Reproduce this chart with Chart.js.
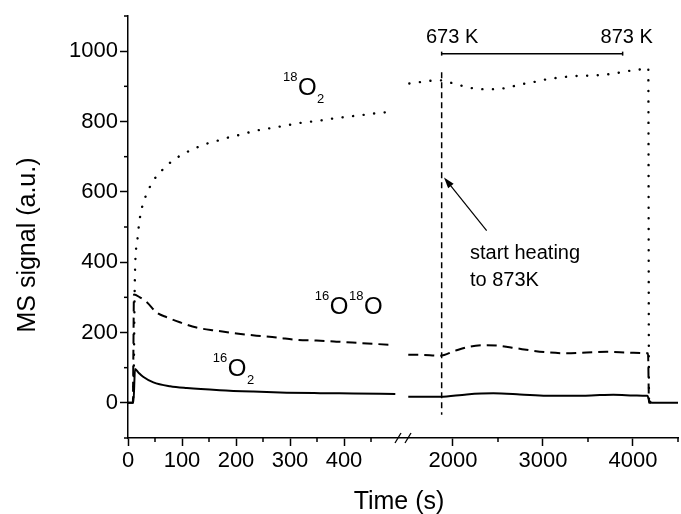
<!DOCTYPE html>
<html>
<head>
<meta charset="utf-8">
<script src="https://cdn.jsdelivr.net/npm/chart.js@4.4.0/dist/chart.umd.min.js"></script>
<style>
  html, body { margin: 0; padding: 0; background: #fff; }
  canvas { display: block; }
</style>
</head>
<body>
<canvas id="msChart" width="681" height="514"></canvas>
<script>
// broken time axis: 0-500 s on the left, 1500-4500 s squeezed on the right
const LEFT_END = 500;
const RIGHT_START = 1500;
const RIGHT_END = 4500;
const RIGHT_SQUEEZE = 6;   // right part drawn 6x compressed
const GAP = 18.5;          // axis units left empty for the break

function toAxis(t) {
    if (t <= LEFT_END) return t;
    return LEFT_END + GAP + (t - RIGHT_START) / RIGHT_SQUEEZE;
}
function fromAxis(u) {
    if (u <= LEFT_END) return u;
    return RIGHT_START + (u - LEFT_END - GAP) * RIGHT_SQUEEZE;
}

// 18O2 (dotted)
const o18Time = [0, 9, 11, 12, 13, 15, 18, 20, 23, 28, 36, 47, 64, 83, 104, 126, 146, 167, 189, 210,
    231, 252, 272, 294, 315, 335, 357, 378, 398, 420, 442, 462, 485,
    1515, 1633, 1763, 1874, 1967, 2078, 2207, 2337, 2485, 2615, 2744, 2893, 3041, 3189, 3337, 3485,
    3633, 3781, 3930, 4078, 4152, 4170, 4178, 4200];
const o18Signal = [0, 0, 120, 280, 374, 438, 471, 502, 535, 567, 599, 632, 663, 689, 709, 725, 737, 746, 756, 763,
    772, 778, 783, 789, 795, 799, 803, 808, 812, 816, 820, 824, 827,
    908, 912, 916, 917, 911, 903, 895, 892, 892, 897, 905, 912, 920, 925, 929, 930,
    932, 936, 943, 948, 952, 952, 0, 0];

// 16O18O (dashed)
const mixTime = [0, 9, 10, 11, 22, 35, 53, 72, 96, 127, 164, 201, 238, 275, 312, 349, 386, 430, 485,
    1503, 1670, 1856, 2022, 2189, 2374, 2522, 2707, 2893, 3078, 3263, 3485, 3707, 3930, 4152, 4167, 4178, 4200];
const mixSignal = [0, 0, 150, 308, 300, 286, 257, 243, 229, 214, 205, 197, 191, 186, 179, 177, 174, 170, 165,
    137, 136, 134, 148, 160, 164, 162, 155, 148, 143, 141, 143, 145, 143, 141, 141, 0, 0];

// 16O2 (solid)
const o16Time = [0, 10, 13, 20, 28, 47, 78, 109, 170, 232, 294, 356, 417, 495,
    1503, 1856, 2152, 2448, 2744, 3041, 3337, 3633, 3781, 4004, 4152, 4160, 4181, 4200, 4226, 4500];
const o16Signal = [0, 0, 96, 85, 74, 58, 47, 42, 36, 32, 29, 27.5, 26.5, 25,
    17, 17, 24, 27, 24, 20, 20, 22, 23, 21, 20, 20, 6, 1, 0, 0];

const xMajorTicks = [0, 100, 200, 300, 400, 2000, 3000, 4000];
const xMinorTicks = [50, 150, 250, 350, 450, 2500, 3500, 4500];
const yMajorTicks = [0, 200, 400, 600, 800, 1000];
const yMinorTicks = [-100, 100, 300, 500, 700, 900, 1100];

const FONT = "'Liberation Sans', Arial, Helvetica, sans-serif";

// turn time/value lists into points, with a hole across the axis break
function buildSeries(times, values) {
    const pts = [];
    for (let i = 0; i < times.length; i++) {
        if (i > 0 && times[i - 1] <= LEFT_END && times[i] >= RIGHT_START) {
            pts.push({ x: LEFT_END + GAP / 2, y: null });
        }
        pts.push({ x: toAxis(times[i]), y: values[i] });
    }
    return pts;
}

function drawFormula(ctx, x, y, parts) {
    parts.forEach(([txt, kind]) => {
        const size = kind ? 13 : 24;
        const dy = kind === 'sup' ? -14 : (kind === 'sub' ? 8 : 0);
        ctx.font = size + 'px ' + FONT;
        ctx.fillText(txt, x, y + dy);
        x += ctx.measureText(txt).width + 0.5;
    });
}

const annotationPlugin = {
    id: 'annotations',
    afterDraw(chart) {
        const ctx = chart.ctx;
        const xs = chart.scales.x, ys = chart.scales.y;
        const area = chart.chartArea;
        const px = t => xs.getPixelForValue(toAxis(t));
        const py = v => ys.getPixelForValue(v);
        const line = (x1, y1, x2, y2) => { ctx.beginPath(); ctx.moveTo(x1, y1); ctx.lineTo(x2, y2); ctx.stroke(); };

        ctx.save();
        ctx.strokeStyle = '#000';
        ctx.fillStyle = '#000';

        // minor ticks
        ctx.lineWidth = 1.5;
        xMinorTicks.forEach(t => line(px(t), area.bottom, px(t), area.bottom + 4));
        yMinorTicks.forEach(v => line(area.left - 4, py(v), area.left, py(v)));

        // axis break marks
        const bx = xs.getPixelForValue(LEFT_END + GAP / 2);
        ctx.lineWidth = 1.3;
        [-5, 5].forEach(o => line(bx + o - 3, area.bottom + 5, bx + o + 3, area.bottom - 5));

        // start heating marker
        ctx.lineWidth = 1.5;
        ctx.setLineDash([6, 4]);
        line(px(1874), py(940), px(1874), py(-34));
        ctx.setLineDash([]);

        // temperature ramp bar
        ctx.lineWidth = 1.5;
        line(px(1874), py(993), px(3885), py(993));
        line(px(1874), py(993) - 2, px(1874), py(993) + 2);
        line(px(3885), py(993) - 2, px(3885), py(993) + 2);

        // arrow
        const ax1 = px(2374), ay1 = py(490), ax2 = px(1900), ay2 = py(641);
        const ang = Math.atan2(ay2 - ay1, ax2 - ax1);
        ctx.lineWidth = 1.2;
        line(ax1, ay1, ax2 - 8 * Math.cos(ang), ay2 - 8 * Math.sin(ang));
        ctx.beginPath();
        ctx.moveTo(ax2, ay2);
        ctx.lineTo(ax2 - 11 * Math.cos(ang) + 3.5 * Math.sin(ang), ay2 - 11 * Math.sin(ang) - 3.5 * Math.cos(ang));
        ctx.lineTo(ax2 - 11 * Math.cos(ang) - 3.5 * Math.sin(ang), ay2 - 11 * Math.sin(ang) + 3.5 * Math.cos(ang));
        ctx.closePath();
        ctx.fill();

        // texts
        ctx.textBaseline = 'alphabetic';
        ctx.textAlign = 'center';
        ctx.font = '20px ' + FONT;
        ctx.fillText('673 K', px(1990), py(1024));
        ctx.fillText('873 K', px(3930), py(1024));
        ctx.textAlign = 'left';
        ctx.fillText('start heating', px(2189), py(408));
        ctx.fillText('to 873K', px(2189), py(333));

        drawFormula(ctx, px(287), py(875), [['18', 'sup'], ['O', ''], ['2', 'sub']]);
        drawFormula(ctx, px(346), py(254), [['16', 'sup'], ['O', ''], ['18', 'sup'], ['O', '']]);
        drawFormula(ctx, px(157), py(77), [['16', 'sup'], ['O', ''], ['2', 'sub']]);

        // axis titles
        ctx.font = '25px ' + FONT;
        ctx.textAlign = 'center';
        ctx.fillText('Time (s)', (area.left + area.right) / 2 - 4, 509);
        ctx.translate(35, 245);
        ctx.rotate(-Math.PI / 2);
        ctx.fillText('MS signal (a.u.)', 0, 0);
        ctx.restore();
    }
};

const ctx = document.getElementById('msChart').getContext('2d');
new Chart(ctx, {
    type: 'line',
    data: {
        datasets: [
            {
                label: '18O2',
                data: buildSeries(o18Time, o18Signal),
                borderColor: '#000',
                borderWidth: 2.4,
                borderDash: [0.1, 10.5],
                borderCapStyle: 'round',
                cubicInterpolationMode: 'monotone'
            },
            {
                label: '16O18O',
                data: buildSeries(mixTime, mixSignal),
                borderColor: '#000',
                borderWidth: 2,
                borderDash: [10, 6],
                cubicInterpolationMode: 'monotone'
            },
            {
                label: '16O2',
                data: buildSeries(o16Time, o16Signal),
                borderColor: '#000',
                borderWidth: 2,
                cubicInterpolationMode: 'monotone'
            }
        ]
    },
    options: {
        responsive: false,
        animation: false,
        spanGaps: false,
        layout: { padding: { top: 16, right: 3, left: 0, bottom: 0 } },
        elements: { point: { radius: 0 } },
        plugins: {
            legend: { display: false },
            tooltip: { enabled: false }
        },
        scales: {
            x: {
                type: 'linear',
                min: 0,
                max: toAxis(RIGHT_END),
                afterBuildTicks: scale => { scale.ticks = xMajorTicks.map(t => ({ value: toAxis(t) })); },
                afterFit: scale => { scale.height = 76; },
                ticks: {
                    color: '#000',
                    padding: 2,
                    maxRotation: 0,
                    autoSkip: false,
                    font: { family: FONT, size: 22 },
                    callback: value => String(Math.round(fromAxis(value)))
                },
                grid: { drawOnChartArea: false, tickLength: 8, tickColor: '#000', tickWidth: 1.5 },
                border: { color: '#000', width: 1.5 }
            },
            y: {
                min: -100,
                max: 1100,
                afterBuildTicks: scale => { scale.ticks = yMajorTicks.map(v => ({ value: v })); },
                afterFit: scale => { scale.width = 128; },
                ticks: {
                    color: '#000',
                    padding: 2,
                    autoSkip: false,
                    font: { family: FONT, size: 22 },
                    callback: value => String(value)
                },
                grid: { drawOnChartArea: false, tickLength: 8, tickColor: '#000', tickWidth: 1.5 },
                border: { color: '#000', width: 1.5 }
            }
        }
    },
    plugins: [annotationPlugin]
});
</script>
</body>
</html>
